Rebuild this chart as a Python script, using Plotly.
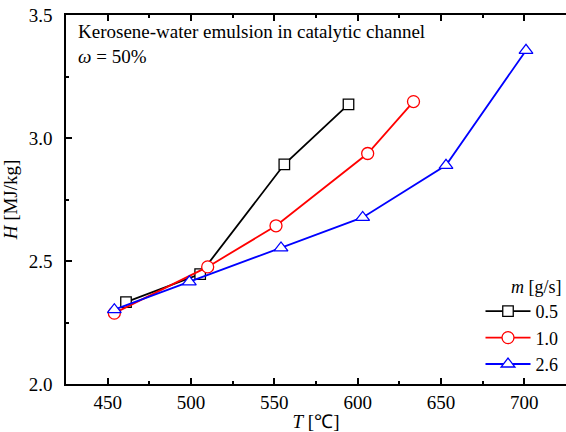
import plotly.graph_objects as go

# Data
T_05 = [461, 505.5, 556, 594.5]
H_05 = [2.333, 2.447, 2.893, 3.137]
T_10 = [454, 510, 551, 606, 633.5]
H_10 = [2.288, 2.476, 2.643, 2.937, 3.148]
T_26 = [454, 499, 554, 603, 653, 701]
H_26 = [2.302, 2.415, 2.553, 2.677, 2.889, 3.356]

labels = ["0.5", "1.0", "2.6"]
colors = ["#000000", "#ff0000", "#0000ff"]
symbols = ["square", "circle", "triangle-up"]
sizes = [10.5, 12, 12]

FONT = "Times New Roman"

fig = go.Figure()
for T, H, lab, col, sym, sz in zip([T_05, T_10, T_26], [H_05, H_10, H_26], labels, colors, symbols, sizes):
    fig.add_trace(go.Scatter(
        x=T, y=H, name=lab, mode="lines+markers",
        line=dict(color=col, width=1.8),
        marker=dict(symbol=sym, size=sz, color="white",
                    line=dict(color=col, width=1.3)),
    ))

fig.update_layout(
    width=566, height=432,
    margin=dict(l=66, r=0, t=15, b=48),
    paper_bgcolor="white", plot_bgcolor="white",
    font=dict(family=FONT, size=19, color="#000000"),
    showlegend=True,
    legend=dict(
        x=0.995, y=0.31, xanchor="right", yanchor="top",
        bgcolor="rgba(0,0,0,0)", font=dict(family=FONT, size=18, color="#000000"),
        title=dict(text="<i>m</i> [g/s]", side="top right", font=dict(family=FONT, size=18, color="#000000")),
        tracegroupgap=0, itemwidth=45,
    ),
)

fig.update_xaxes(
    range=[425, 725], showline=True, linecolor="black", linewidth=1.5,
    mirror="ticks", showgrid=False, zeroline=False,
    ticks="inside", ticklen=6, tickwidth=1.5, tickcolor="black",
    tick0=450, dtick=50,
    minor=dict(ticks="inside", ticklen=3, tickwidth=1.5, tickcolor="black", dtick=25, tick0=425),
    ticklabelstandoff=0,
    tickfont=dict(family=FONT, size=19, color="#000000"),
    title=dict(text="<i>T</i> [℃]", font=dict(family=FONT, size=19, color="#000000"), standoff=3),
)
fig.update_yaxes(
    range=[2.0, 3.5], showline=True, linecolor="black", linewidth=1.5,
    mirror=False, showgrid=False, zeroline=False,
    ticks="inside", ticklen=6, tickwidth=1.5, tickcolor="black",
    tick0=2.0, dtick=0.5, tickformat=".1f",
    minor=dict(ticks="inside", ticklen=3, tickwidth=1.5, tickcolor="black", dtick=0.25),
    ticklabelstandoff=8,
    tickfont=dict(family=FONT, size=19, color="#000000"),
    title=dict(text="<i>H</i> [MJ/kg]", font=dict(family=FONT, size=19, color="#000000"), standoff=6),
)

fig.add_annotation(
    xref="paper", yref="paper", x=0.02, y=0.99, xanchor="left", yanchor="top",
    text="Kerosene-water emulsion in catalytic channel<br><i>ω</i> = 50%",
    showarrow=False, align="left", font=dict(family=FONT, size=19, color="#000000"),
)

fig.write_html("out.html")
